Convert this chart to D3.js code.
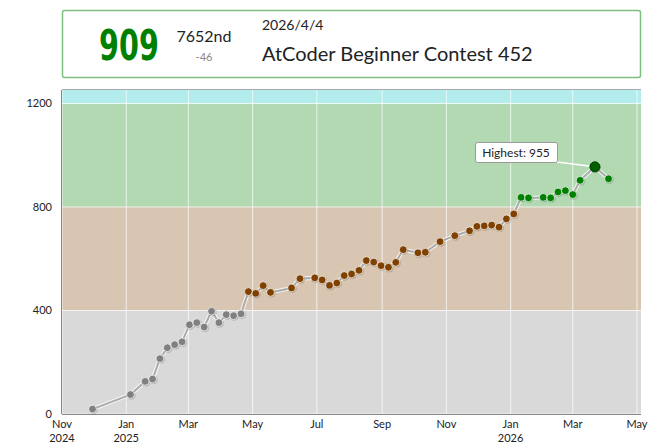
<!DOCTYPE html>
<html><head><meta charset="utf-8">
<script src="https://cdn.jsdelivr.net/npm/d3@7"></script>
<style>body{margin:0;background:#fff;font-family:Lato,"Open Sans",sans-serif}</style>
</head><body><svg id="c" width="654" height="448"></svg>
<script>
const dates=["2024-11-30","2025-01-05","2025-01-19","2025-01-26","2025-02-02","2025-02-09","2025-02-16","2025-02-23","2025-03-02","2025-03-09","2025-03-16","2025-03-23","2025-03-30","2025-04-06","2025-04-13","2025-04-20","2025-04-27","2025-05-04","2025-05-11","2025-05-18","2025-06-07","2025-06-15","2025-06-29","2025-07-06","2025-07-13","2025-07-20","2025-07-27","2025-08-03","2025-08-10","2025-08-17","2025-08-24","2025-08-31","2025-09-07","2025-09-14","2025-09-21","2025-10-05","2025-10-12","2025-10-26","2025-11-09","2025-11-23","2025-11-30","2025-12-07","2025-12-14","2025-12-21","2025-12-28","2026-01-04","2026-01-11","2026-01-18","2026-02-01","2026-02-08","2026-02-15","2026-02-22","2026-03-01","2026-03-08","2026-03-22","2026-04-04"];
const ratings=[19,75,126,135,214,256,268,279,345,353,336,397,353,384,380,387,473,466,496,470,487,523,526,518,497,506,535,541,555,593,587,573,567,586,635,623,625,666,689,708,725,727,730,722,754,773,837,835,837,835,858,863,848,903,955,909];
const bands=[{lo:0,hi:400,fill:"#d9d9d9",dot:"#808080"},{lo:400,hi:800,fill:"#d9c6b2",dot:"#804000"},{lo:800,hi:1200,fill:"#b2d9b2",dot:"#008000"},{lo:1200,hi:1252,fill:"#b2ecec",dot:"#00c0c0"}];
const yTicks=[0,400,800,1200];
const xTickDates=["2024-11-01","2025-01-01","2025-03-01","2025-05-01","2025-07-01","2025-09-01","2025-11-01","2026-01-01","2026-03-01","2026-05-01"];
const monthLabels=["Nov","Jan","Mar","May","Jul","Sep","Nov","Jan","Mar","May"];
const yearLabels=["2024","2025","","","","","","2026","",""];

const p=d3.timeParse("%Y-%m-%d");
const data=dates.map((d,i)=>({d:p(d),v:ratings[i]}));
const svg=d3.select("#c");
const L=62,R=637,T=90,B=414;
const x=d3.scaleTime().domain([p("2024-11-01"),p("2026-05-01")]).range([L,R]);
const y=d3.scaleLinear().domain([0,1252]).range([B,T]);
const col=v=>bands.find(b=>v>=b.lo&&v<b.hi).dot;

// header
svg.append("rect").attr("x",62.5).attr("y",10.5).attr("width",578).attr("height",67).attr("rx",2).attr("fill","#fff").attr("stroke","#7dbf7d").attr("stroke-width",1.5);
const last=data[data.length-1];
svg.append("text").attr("x",129).attr("y",60).attr("text-anchor","middle").attr("fill","#008000").attr("font-weight","900").attr("font-size",43).attr("font-family","'DejaVu Sans Condensed','Liberation Sans Narrow',sans-serif").attr("transform","translate(129,0) scale(0.74,1) translate(-129,0)").text(last.v);
svg.append("text").attr("x",204).attr("y",42).attr("text-anchor","middle").attr("font-size",16).attr("fill","#222").text("7652nd");
svg.append("text").attr("x",204).attr("y",61).attr("text-anchor","middle").attr("font-size",11).attr("fill","#888").text(last.v-ratings[ratings.length-2]);
svg.append("text").attr("x",262).attr("y",30).attr("font-size",14).attr("fill","#222").text(d3.timeFormat("%Y/%-m/%-d")(last.d));
svg.append("text").attr("x",262).attr("y",61).attr("font-size",20).attr("fill","#222").text("AtCoder Beginner Contest 452");

// bands
bands.forEach(b=>svg.append("rect").attr("x",L).attr("width",R-L+4).attr("y",y(b.hi)).attr("height",y(b.lo)-y(b.hi)).attr("fill",b.fill));
svg.append("line").attr("x1",L).attr("x2",R+4).attr("y1",T-0.5).attr("y2",T-0.5).attr("stroke","#aaa");
// grid
xTickDates.forEach(d=>svg.append("line").attr("x1",x(p(d))).attr("x2",x(p(d))).attr("y1",T).attr("y2",B).attr("stroke","#fff").attr("stroke-opacity",0.7));
yTicks.forEach(v=>svg.append("line").attr("x1",L).attr("x2",R+4).attr("y1",y(v)).attr("y2",y(v)).attr("stroke","#fff").attr("stroke-opacity",0.7));
// axes
svg.append("line").attr("x1",L-0.5).attr("x2",L-0.5).attr("y1",T).attr("y2",B).attr("stroke","#888");
svg.append("line").attr("x1",L).attr("x2",R+4).attr("y1",B+0.5).attr("y2",B+0.5).attr("stroke","#888");
yTicks.forEach(v=>svg.append("text").attr("x",52).attr("y",y(v)+4).attr("text-anchor","end").attr("font-size",11).attr("fill","#222").text(v));
xTickDates.forEach((d,i)=>{
  svg.append("text").attr("x",x(p(d))).attr("y",428).attr("text-anchor","middle").attr("font-size",11).attr("fill","#222").text(monthLabels[i]);
  if(yearLabels[i])svg.append("text").attr("x",x(p(d))).attr("y",442).attr("text-anchor","middle").attr("font-size",11).attr("fill","#222").text(yearLabels[i]);
});
// line
const line=d3.line().x(d=>x(d.d)).y(d=>y(d.v));
svg.append("path").datum(data).attr("d",line).attr("fill","none").attr("stroke","#fff").attr("stroke-width",4).attr("stroke-opacity",0.8);
svg.append("path").datum(data).attr("d",line).attr("fill","none").attr("stroke","#aaa").attr("stroke-width",2);
// highest
const hi=data.reduce((a,b)=>b.v>a.v?b:a);
svg.append("line").attr("x1",557).attr("y1",162).attr("x2",x(hi.d)).attr("y2",y(hi.v)).attr("stroke","#fff").attr("stroke-width",1.5);
// dots
data.forEach(d=>{
  svg.append("circle").attr("cx",x(d.d)+0.7).attr("cy",y(d.v)+0.7).attr("r",d===hi?5.5:4.5).attr("fill","rgba(0,0,0,0.15)");
  svg.append("circle").attr("cx",x(d.d)).attr("cy",y(d.v)).attr("r",d===hi?5:3.9).attr("fill",d===hi?"#006000":col(d.v)).attr("stroke",d===hi?"#004000":"#fff").attr("stroke-width",d===hi?1:0.7);
});
const tb=svg.append("g");
tb.append("rect").attr("x",475.5).attr("y",142.5).attr("width",82).attr("height",20).attr("rx",2).attr("fill","#fff").attr("stroke","#999");
tb.append("text").attr("x",516).attr("y",157).attr("text-anchor","middle").attr("font-size",12).attr("fill","#222").text("Highest: "+hi.v);
</script></body></html>
